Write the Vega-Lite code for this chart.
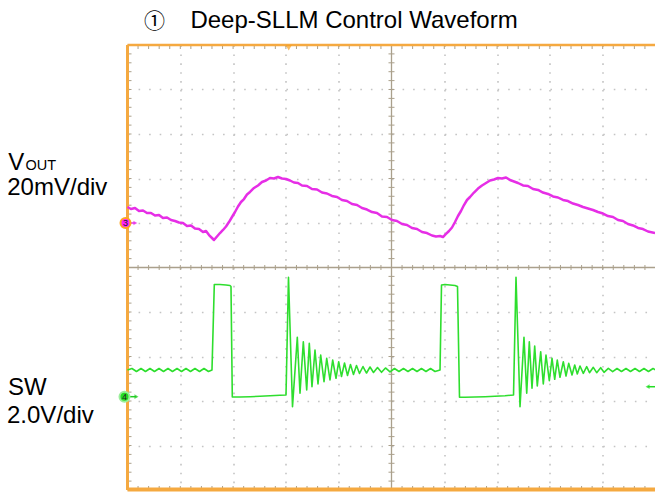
{
  "$schema": "https://vega.github.io/schema/vega-lite/v6.json",
  "width": 528,
  "height": 445,
  "autosize": {"type": "none"},
  "padding": {"left": 127.5, "top": 45, "right": 0, "bottom": 2},
  "background": "white",
  "config": {"view": {"stroke": null}, "axis": {"labels": false, "ticks": false, "domain": false}},
  "data": {"values": [{}]},
  "datasets": {
    "minor": [{"m":0},{"m":0.2},{"m":0.4},{"m":0.6},{"m":0.8},{"m":1},{"m":1.2},{"m":1.4},{"m":1.6},{"m":1.8},{"m":2},{"m":2.2},{"m":2.4},{"m":2.6},{"m":2.8},{"m":3},{"m":3.2},{"m":3.4},{"m":3.6},{"m":3.8},{"m":4},{"m":4.2},{"m":4.4},{"m":4.6},{"m":4.8},{"m":5},{"m":5.2},{"m":5.4},{"m":5.6},{"m":5.8},{"m":6},{"m":6.2},{"m":6.4},{"m":6.6},{"m":6.8},{"m":7},{"m":7.2},{"m":7.4},{"m":7.6},{"m":7.8},{"m":8},{"m":8.2},{"m":8.4},{"m":8.6},{"m":8.8},{"m":9},{"m":9.2},{"m":9.4},{"m":9.6},{"m":9.8},{"m":10}],
    "vout": [
      {"t":0,"v":6.360},{"t":0.066,"v":6.315},{"t":0.142,"v":6.337},{"t":0.218,"v":6.270},{"t":0.294,"v":6.281},{"t":0.369,"v":6.225},{"t":0.445,"v":6.225},{"t":0.521,"v":6.169},{"t":0.597,"v":6.180},{"t":0.672,"v":6.112},{"t":0.748,"v":6.124},{"t":0.824,"v":6.067},{"t":0.900,"v":6.045},{"t":0.975,"v":6.011},{"t":1.051,"v":6.000},{"t":1.127,"v":5.933},{"t":1.203,"v":5.944},{"t":1.278,"v":5.876},{"t":1.354,"v":5.865},{"t":1.430,"v":5.798},{"t":1.487,"v":5.820},{"t":1.544,"v":5.730},{"t":1.600,"v":5.663},{"t":1.638,"v":5.618},{"t":1.695,"v":5.697},{"t":1.752,"v":5.775},{"t":1.809,"v":5.843},{"t":1.866,"v":5.921},{"t":1.922,"v":6.022},{"t":1.979,"v":6.135},{"t":2.036,"v":6.247},{"t":2.093,"v":6.371},{"t":2.150,"v":6.472},{"t":2.206,"v":6.539},{"t":2.263,"v":6.640},{"t":2.320,"v":6.697},{"t":2.396,"v":6.787},{"t":2.472,"v":6.843},{"t":2.547,"v":6.921},{"t":2.623,"v":6.955},{"t":2.699,"v":7.011},{"t":2.775,"v":7.000},{"t":2.850,"v":7.034},{"t":2.926,"v":7.000},{"t":3.002,"v":6.989},{"t":3.078,"v":6.955},{"t":3.153,"v":6.910},{"t":3.229,"v":6.899},{"t":3.305,"v":6.843},{"t":3.400,"v":6.831},{"t":3.494,"v":6.764},{"t":3.589,"v":6.753},{"t":3.684,"v":6.685},{"t":3.778,"v":6.663},{"t":3.873,"v":6.607},{"t":3.968,"v":6.584},{"t":4.062,"v":6.517},{"t":4.157,"v":6.494},{"t":4.252,"v":6.427},{"t":4.347,"v":6.404},{"t":4.441,"v":6.337},{"t":4.536,"v":6.303},{"t":4.631,"v":6.247},{"t":4.725,"v":6.225},{"t":4.820,"v":6.146},{"t":4.915,"v":6.135},{"t":5.009,"v":6.067},{"t":5.104,"v":6.045},{"t":5.199,"v":5.978},{"t":5.294,"v":5.955},{"t":5.388,"v":5.888},{"t":5.483,"v":5.865},{"t":5.578,"v":5.798},{"t":5.672,"v":5.775},{"t":5.767,"v":5.719},{"t":5.843,"v":5.697},{"t":5.919,"v":5.708},{"t":5.975,"v":5.685},{"t":6.032,"v":5.753},{"t":6.089,"v":5.820},{"t":6.146,"v":5.899},{"t":6.203,"v":6.022},{"t":6.259,"v":6.157},{"t":6.316,"v":6.270},{"t":6.373,"v":6.404},{"t":6.430,"v":6.517},{"t":6.487,"v":6.584},{"t":6.562,"v":6.685},{"t":6.638,"v":6.775},{"t":6.714,"v":6.843},{"t":6.790,"v":6.899},{"t":6.866,"v":6.955},{"t":6.941,"v":6.978},{"t":7.017,"v":7.011},{"t":7.093,"v":7.000},{"t":7.169,"v":7.022},{"t":7.244,"v":6.966},{"t":7.320,"v":6.933},{"t":7.396,"v":6.899},{"t":7.491,"v":6.843},{"t":7.585,"v":6.831},{"t":7.680,"v":6.764},{"t":7.775,"v":6.742},{"t":7.869,"v":6.685},{"t":7.964,"v":6.652},{"t":8.059,"v":6.596},{"t":8.153,"v":6.573},{"t":8.248,"v":6.517},{"t":8.343,"v":6.494},{"t":8.438,"v":6.438},{"t":8.532,"v":6.404},{"t":8.627,"v":6.360},{"t":8.722,"v":6.326},{"t":8.816,"v":6.292},{"t":8.911,"v":6.247},{"t":9.006,"v":6.213},{"t":9.100,"v":6.157},{"t":9.195,"v":6.135},{"t":9.290,"v":6.067},{"t":9.384,"v":6.045},{"t":9.479,"v":5.978},{"t":9.574,"v":5.944},{"t":9.669,"v":5.888},{"t":9.763,"v":5.865},{"t":9.858,"v":5.809},{"t":9.991,"v":5.775}
    ],
    "sw": [
      {"t":0,"v":2.697},{"t":0.085,"v":2.730},{"t":0.170,"v":2.663},{"t":0.256,"v":2.730},{"t":0.341,"v":2.663},{"t":0.426,"v":2.730},{"t":0.511,"v":2.663},{"t":0.597,"v":2.730},{"t":0.682,"v":2.663},{"t":0.767,"v":2.730},{"t":0.852,"v":2.663},{"t":0.938,"v":2.730},{"t":1.023,"v":2.663},{"t":1.108,"v":2.730},{"t":1.193,"v":2.663},{"t":1.278,"v":2.730},{"t":1.364,"v":2.663},{"t":1.449,"v":2.730},{"t":1.534,"v":2.663},{"t":1.600,"v":2.697},
      {"t":1.644,"v":4.618},{"t":1.752,"v":4.618},{"t":1.866,"v":4.607},{"t":1.941,"v":4.596},{"t":1.960,"v":4.573},
      {"t":1.985,"v":2.090},{"t":2.131,"v":2.090},{"t":2.320,"v":2.097},{"t":2.509,"v":2.106},{"t":2.699,"v":2.119},{"t":2.888,"v":2.128},{"t":3.002,"v":2.135},
      {"t":3.049,"v":4.780},{"t":3.125,"v":1.872},{"t":3.216,"v":3.431},{"t":3.267,"v":2.173},{"t":3.330,"v":3.333},{"t":3.394,"v":2.247},{"t":3.443,"v":3.297},{"t":3.494,"v":2.321},{"t":3.551,"v":3.146},{"t":3.608,"v":2.382},{"t":3.659,"v":3.034},{"t":3.722,"v":2.434},{"t":3.773,"v":2.960},{"t":3.835,"v":2.472},{"t":3.886,"v":2.921},{"t":3.949,"v":2.510},{"t":4.000,"v":2.883},{"t":4.053,"v":2.551},{"t":4.110,"v":2.854},{"t":4.167,"v":2.573},{"t":4.223,"v":2.820},{"t":4.280,"v":2.596},{"t":4.337,"v":2.798},{"t":4.394,"v":2.618},{"t":4.460,"v":2.775},{"t":4.527,"v":2.629},{"t":4.593,"v":2.764},{"t":4.659,"v":2.640},{"t":4.735,"v":2.753},{"t":4.811,"v":2.645},{"t":4.886,"v":2.742},{"t":4.972,"v":2.656},{"t":5.057,"v":2.730},{"t":5.142,"v":2.663},{"t":5.227,"v":2.730},{"t":5.312,"v":2.663},{"t":5.398,"v":2.730},{"t":5.483,"v":2.663},{"t":5.568,"v":2.730},{"t":5.653,"v":2.663},{"t":5.739,"v":2.730},{"t":5.824,"v":2.663},{"t":5.919,"v":2.697},
      {"t":5.947,"v":4.607},{"t":6.013,"v":4.618},{"t":6.108,"v":4.607},{"t":6.203,"v":4.596},{"t":6.250,"v":4.573},
      {"t":6.288,"v":2.083},{"t":6.392,"v":2.083},{"t":6.581,"v":2.090},{"t":6.771,"v":2.097},{"t":6.960,"v":2.106},{"t":7.150,"v":2.119},{"t":7.311,"v":2.135},
      {"t":7.358,"v":4.780},{"t":7.434,"v":1.872},{"t":7.509,"v":3.431},{"t":7.561,"v":2.173},{"t":7.610,"v":3.333},{"t":7.661,"v":2.285},{"t":7.712,"v":3.236},{"t":7.761,"v":2.337},{"t":7.826,"v":3.108},{"t":7.875,"v":2.382},{"t":7.926,"v":3.034},{"t":7.989,"v":2.456},{"t":8.040,"v":2.960},{"t":8.091,"v":2.488},{"t":8.140,"v":2.921},{"t":8.191,"v":2.533},{"t":8.254,"v":2.883},{"t":8.305,"v":2.562},{"t":8.356,"v":2.847},{"t":8.419,"v":2.584},{"t":8.470,"v":2.809},{"t":8.519,"v":2.607},{"t":8.570,"v":2.787},{"t":8.633,"v":2.622},{"t":8.697,"v":2.771},{"t":8.750,"v":2.636},{"t":8.822,"v":2.757},{"t":8.886,"v":2.636},{"t":8.962,"v":2.748},{"t":9.025,"v":2.645},{"t":9.106,"v":2.735},{"t":9.189,"v":2.658},{"t":9.271,"v":2.730},{"t":9.356,"v":2.663},{"t":9.441,"v":2.730},{"t":9.526,"v":2.663},{"t":9.612,"v":2.730},{"t":9.697,"v":2.663},{"t":9.782,"v":2.730},{"t":9.867,"v":2.663},{"t":9.953,"v":2.730},{"t":10.0,"v":2.697}
    ]
  },
  "layer": [
    {
      "mark": {"type": "rule", "color": "#aaa08c", "strokeWidth": 1.3},
      "encoding": {"y": {"datum": 5, "type": "quantitative", "scale": {"domain": [0, 10], "nice": false, "zero": false}}}
    },
    {
      "mark": {"type": "rule", "color": "#aaa08c", "strokeWidth": 1.3},
      "encoding": {"x": {"datum": 5, "type": "quantitative", "scale": {"domain": [0, 10], "nice": false, "zero": false}}}
    },
    {
      "data": {"name": "minor"},
      "mark": {"type": "rule", "color": "#aaa08c", "strokeWidth": 1},
      "encoding": {
        "x": {"field": "m", "type": "quantitative", "scale": {"domain": [0, 10], "nice": false, "zero": false}},
        "y": {"datum": 4.944, "type": "quantitative", "scale": {"domain": [0, 10], "nice": false, "zero": false}},
        "y2": {"datum": 5.056}
      }
    },
    {
      "data": {"name": "minor"},
      "mark": {"type": "rule", "color": "#aaa08c", "strokeWidth": 1},
      "encoding": {
        "y": {"field": "m", "type": "quantitative", "scale": {"domain": [0, 10], "nice": false, "zero": false}},
        "x": {"datum": 4.943, "type": "quantitative", "scale": {"domain": [0, 10], "nice": false, "zero": false}},
        "x2": {"datum": 5.057}
      }
    },
    {
      "data": {"name": "minor"},
      "mark": {"type": "rule", "color": "#aaa08c", "strokeWidth": 1},
      "encoding": {
        "x": {"field": "m", "type": "quantitative", "scale": {"domain": [0, 10], "nice": false, "zero": false}},
        "y": {"datum": 10, "type": "quantitative", "scale": {"domain": [0, 10], "nice": false, "zero": false}},
        "y2": {"datum": 9.91}
      }
    },
    {
      "data": {"name": "minor"},
      "mark": {"type": "rule", "color": "#aaa08c", "strokeWidth": 1},
      "encoding": {
        "x": {"field": "m", "type": "quantitative", "scale": {"domain": [0, 10], "nice": false, "zero": false}},
        "y": {"datum": 0, "type": "quantitative", "scale": {"domain": [0, 10], "nice": false, "zero": false}},
        "y2": {"datum": 0.09}
      }
    },
    {
      "data": {"name": "minor"},
      "mark": {"type": "rule", "color": "#aaa08c", "strokeWidth": 1},
      "encoding": {
        "y": {"field": "m", "type": "quantitative", "scale": {"domain": [0, 10], "nice": false, "zero": false}},
        "x": {"datum": 0, "type": "quantitative", "scale": {"domain": [0, 10], "nice": false, "zero": false}},
        "x2": {"datum": 0.076}
      }
    },
    {
      "mark": {"type": "rule", "color": "#f5a940", "strokeWidth": 3},
      "encoding": {"x": {"datum": 0, "type": "quantitative", "scale": {"domain": [0, 10], "nice": false, "zero": false}}}
    },
    {
      "mark": {"type": "rule", "color": "#f5a940", "strokeWidth": 2.5},
      "encoding": {"y": {"datum": 10, "type": "quantitative", "scale": {"domain": [0, 10], "nice": false, "zero": false}}}
    },
    {
      "mark": {"type": "rule", "color": "#f5a940", "strokeWidth": 4},
      "encoding": {"y": {"datum": 0.01, "type": "quantitative", "scale": {"domain": [0, 10], "nice": false, "zero": false}}}
    },
    {
      "data": {"name": "vout"},
      "mark": {"type": "line", "color": "#e62ee6", "strokeWidth": 2.5, "strokeJoin": "round"},
      "encoding": {
        "x": {"field": "t", "type": "quantitative", "scale": {"domain": [0, 10], "nice": false, "zero": false},
              "axis": {"values": [1, 2, 3, 4, 6, 7, 8, 9], "grid": true, "gridColor": "#c4c4c4", "gridWidth": 1.6, "gridDash": [1.6, 7.3], "labels": false, "ticks": false, "domain": false, "title": null}},
        "y": {"field": "v", "type": "quantitative", "scale": {"domain": [0, 10], "nice": false, "zero": false},
              "axis": {"values": [1, 2, 3, 4, 6, 7, 8, 9], "grid": true, "gridColor": "#c4c4c4", "gridWidth": 1.6, "gridDash": [1.6, 8.96], "labels": false, "ticks": false, "domain": false, "title": null}}
      }
    },
    {
      "data": {"name": "sw"},
      "mark": {"type": "line", "color": "#2ede2e", "strokeWidth": 1.6, "strokeJoin": "round"},
      "encoding": {
        "x": {"field": "t", "type": "quantitative", "scale": {"domain": [0, 10], "nice": false, "zero": false}},
        "y": {"field": "v", "type": "quantitative", "scale": {"domain": [0, 10], "nice": false, "zero": false}}
      }
    },
    {
      "mark": {"type": "rule", "color": "#e62ee6", "strokeWidth": 1.5},
      "encoding": {
        "x": {"datum": 0, "type": "quantitative", "scale": {"domain": [0, 10], "nice": false, "zero": false}},
        "x2": {"datum": 0.15},
        "y": {"datum": 6.0, "type": "quantitative", "scale": {"domain": [0, 10], "nice": false, "zero": false}}
      }
    },
    {
      "mark": {"type": "point", "shape": "triangle-right", "filled": true, "color": "#e62ee6", "size": 22},
      "encoding": {
        "x": {"datum": 0.15, "type": "quantitative", "scale": {"domain": [0, 10], "nice": false, "zero": false}},
        "y": {"datum": 6.0, "type": "quantitative", "scale": {"domain": [0, 10], "nice": false, "zero": false}}
      }
    },
    {
      "mark": {"type": "point", "shape": "circle", "filled": true, "fill": "#ff22ff", "stroke": "#ffa520", "strokeWidth": 2, "size": 100, "opacity": 1},
      "encoding": {
        "x": {"datum": -0.038, "type": "quantitative", "scale": {"domain": [0, 10], "nice": false, "zero": false}},
        "y": {"datum": 6.0, "type": "quantitative", "scale": {"domain": [0, 10], "nice": false, "zero": false}}
      }
    },
    {
      "mark": {"type": "text", "text": "3", "fontSize": 9, "font": "Liberation Sans", "color": "#222222", "align": "center", "baseline": "middle"},
      "encoding": {
        "x": {"datum": -0.038, "type": "quantitative", "scale": {"domain": [0, 10], "nice": false, "zero": false}},
        "y": {"datum": 6.0, "type": "quantitative", "scale": {"domain": [0, 10], "nice": false, "zero": false}}
      }
    },
    {
      "mark": {"type": "rule", "color": "#22cc22", "strokeWidth": 1.5},
      "encoding": {
        "x": {"datum": 0, "type": "quantitative", "scale": {"domain": [0, 10], "nice": false, "zero": false}},
        "x2": {"datum": 0.17},
        "y": {"datum": 2.097, "type": "quantitative", "scale": {"domain": [0, 10], "nice": false, "zero": false}}
      }
    },
    {
      "mark": {"type": "point", "shape": "triangle-right", "filled": true, "color": "#22cc22", "size": 22},
      "encoding": {
        "x": {"datum": 0.17, "type": "quantitative", "scale": {"domain": [0, 10], "nice": false, "zero": false}},
        "y": {"datum": 2.097, "type": "quantitative", "scale": {"domain": [0, 10], "nice": false, "zero": false}}
      }
    },
    {
      "mark": {"type": "point", "shape": "circle", "filled": true, "fill": "#22dd22", "stroke": "#9aee9a", "strokeWidth": 2, "size": 100, "opacity": 1},
      "encoding": {
        "x": {"datum": -0.057, "type": "quantitative", "scale": {"domain": [0, 10], "nice": false, "zero": false}},
        "y": {"datum": 2.097, "type": "quantitative", "scale": {"domain": [0, 10], "nice": false, "zero": false}}
      }
    },
    {
      "mark": {"type": "text", "text": "4", "fontSize": 9, "font": "Liberation Sans", "color": "#222222", "align": "center", "baseline": "middle"},
      "encoding": {
        "x": {"datum": -0.057, "type": "quantitative", "scale": {"domain": [0, 10], "nice": false, "zero": false}},
        "y": {"datum": 2.097, "type": "quantitative", "scale": {"domain": [0, 10], "nice": false, "zero": false}}
      }
    },
    {
      "mark": {"type": "rule", "color": "#22dd22", "strokeWidth": 1.5},
      "encoding": {
        "x": {"datum": 9.85, "type": "quantitative", "scale": {"domain": [0, 10], "nice": false, "zero": false}},
        "x2": {"datum": 10},
        "y": {"datum": 2.321, "type": "quantitative", "scale": {"domain": [0, 10], "nice": false, "zero": false}}
      }
    },
    {
      "mark": {"type": "point", "shape": "triangle-left", "filled": true, "color": "#22dd22", "size": 22},
      "encoding": {
        "x": {"datum": 9.85, "type": "quantitative", "scale": {"domain": [0, 10], "nice": false, "zero": false}},
        "y": {"datum": 2.321, "type": "quantitative", "scale": {"domain": [0, 10], "nice": false, "zero": false}}
      }
    },
    {
      "mark": {"type": "point", "shape": "triangle-down", "filled": true, "color": "#f5a020", "size": 40},
      "encoding": {
        "x": {"datum": 3.053, "type": "quantitative", "scale": {"domain": [0, 10], "nice": false, "zero": false}},
        "y": {"datum": 9.94, "type": "quantitative", "scale": {"domain": [0, 10], "nice": false, "zero": false}}
      }
    },
    {
      "mark": {"type": "text", "text": "①", "fontSize": 21, "font": "Noto Sans CJK JP", "color": "#000000", "align": "center", "baseline": "alphabetic"},
      "encoding": {
        "x": {"datum": 0.511, "type": "quantitative", "scale": {"domain": [0, 10], "nice": false, "zero": false}},
        "y": {"datum": 10.375, "type": "quantitative", "scale": {"domain": [0, 10], "nice": false, "zero": false}}
      }
    },
    {
      "mark": {"type": "text", "text": "Deep-SLLM Control Waveform", "fontSize": 24, "font": "Liberation Sans", "color": "#000000", "align": "center", "baseline": "alphabetic"},
      "encoding": {
        "x": {"datum": 4.29, "type": "quantitative", "scale": {"domain": [0, 10], "nice": false, "zero": false}},
        "y": {"datum": 10.375, "type": "quantitative", "scale": {"domain": [0, 10], "nice": false, "zero": false}}
      }
    },
    {
      "mark": {"type": "text", "text": "V", "fontSize": 24, "font": "Liberation Sans", "color": "#000000", "align": "left", "baseline": "alphabetic"},
      "encoding": {
        "x": {"datum": -2.258, "type": "quantitative", "scale": {"domain": [0, 10], "nice": false, "zero": false}},
        "y": {"datum": 7.191, "type": "quantitative", "scale": {"domain": [0, 10], "nice": false, "zero": false}}
      }
    },
    {
      "mark": {"type": "text", "text": "OUT", "fontSize": 14.5, "font": "Liberation Sans", "color": "#000000", "align": "left", "baseline": "alphabetic"},
      "encoding": {
        "x": {"datum": -1.93, "type": "quantitative", "scale": {"domain": [0, 10], "nice": false, "zero": false}},
        "y": {"datum": 7.191, "type": "quantitative", "scale": {"domain": [0, 10], "nice": false, "zero": false}}
      }
    },
    {
      "mark": {"type": "text", "text": "20mV/div", "fontSize": 24, "font": "Liberation Sans", "color": "#000000", "align": "left", "baseline": "alphabetic"},
      "encoding": {
        "x": {"datum": -2.277, "type": "quantitative", "scale": {"domain": [0, 10], "nice": false, "zero": false}},
        "y": {"datum": 6.629, "type": "quantitative", "scale": {"domain": [0, 10], "nice": false, "zero": false}}
      }
    },
    {
      "mark": {"type": "text", "text": "SW", "fontSize": 24, "font": "Liberation Sans", "color": "#000000", "align": "left", "baseline": "alphabetic"},
      "encoding": {
        "x": {"datum": -2.263, "type": "quantitative", "scale": {"domain": [0, 10], "nice": false, "zero": false}},
        "y": {"datum": 2.135, "type": "quantitative", "scale": {"domain": [0, 10], "nice": false, "zero": false}}
      }
    },
    {
      "mark": {"type": "text", "text": "2.0V/div", "fontSize": 24, "font": "Liberation Sans", "color": "#000000", "align": "left", "baseline": "alphabetic"},
      "encoding": {
        "x": {"datum": -2.282, "type": "quantitative", "scale": {"domain": [0, 10], "nice": false, "zero": false}},
        "y": {"datum": 1.506, "type": "quantitative", "scale": {"domain": [0, 10], "nice": false, "zero": false}}
      }
    }
  ]
}
